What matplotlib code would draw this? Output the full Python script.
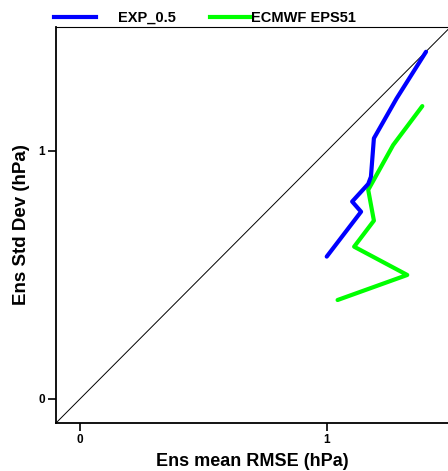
import matplotlib
matplotlib.use("Agg")
import matplotlib.pyplot as plt
from matplotlib.lines import Line2D

plt.rcParams['font.family'] = ['Liberation Sans', 'DejaVu Sans']

# Data
exp_rmse = [1.401, 1.282, 1.190, 1.178, 1.167, 1.102, 1.138, 0.999]
exp_std = [1.400, 1.212, 1.051, 0.896, 0.867, 0.796, 0.755, 0.574]
ecm_rmse = [1.386, 1.268, 1.167, 1.190, 1.110, 1.325, 1.043]
ecm_std = [1.181, 1.024, 0.843, 0.719, 0.614, 0.500, 0.399]
series_names = ["EXP_0.5", "ECMWF EPS51"]
series_colors = ["#0000ff", "#00ff00"]
xticks = [0, 1]
yticks = [0, 1]

fig = plt.figure(figsize=(4.48, 4.71), dpi=100)
ax = fig.add_axes([0.125, 0.1019, 0.875, 0.8408])

xlo, xhi = -0.097, 1.49
ylo, yhi = -0.097, 1.50
ax.plot([xlo, 1.6], [xlo, 1.6], color='black', lw=0.7, zorder=1)
ax.plot(exp_rmse, exp_std, color=series_colors[0], lw=3.0, solid_capstyle='round', zorder=3)
ax.plot(ecm_rmse, ecm_std, color=series_colors[1], lw=3.0, solid_capstyle='round', zorder=2)

ax.set_xlim(xlo, xhi)
ax.set_ylim(ylo, yhi)
ax.set_xticks(xticks)
ax.set_yticks(yticks)
ax.set_xticklabels([str(t) for t in xticks], fontsize=8.5, fontweight='bold')
ax.set_yticklabels([str(t) for t in yticks], fontsize=8.5, fontweight='bold')
ax.tick_params(direction='out', length=6, width=1.2, pad=2)

for s in ['left', 'bottom']:
    ax.spines[s].set_linewidth(1.3)
ax.spines['top'].set_linewidth(0.8)
ax.spines['right'].set_visible(False)

ax.set_xlabel("Ens mean RMSE (hPa)", fontsize=13, fontweight='bold', labelpad=5)
ax.set_ylabel("Ens Std Dev (hPa)", fontsize=13.5, fontweight='bold', labelpad=6)

# Legend drawn above the axes
W, H = 448.0, 471.0
def fx(px):
    return px / W
def fy(py):
    return 1 - py / H
fig.add_artist(Line2D([fx(54), fx(96)], [fy(17), fy(17)], color=series_colors[0], lw=3.0))
fig.text(fx(118), fy(18), series_names[0], fontsize=10.5, fontweight='bold', va='center', ha='left')
fig.add_artist(Line2D([fx(210), fx(252)], [fy(17), fy(17)], color=series_colors[1], lw=3.0))
fig.text(fx(251), fy(18), series_names[1], fontsize=10.5, fontweight='bold', va='center', ha='left')

fig.savefig("out.png", dpi=100)
